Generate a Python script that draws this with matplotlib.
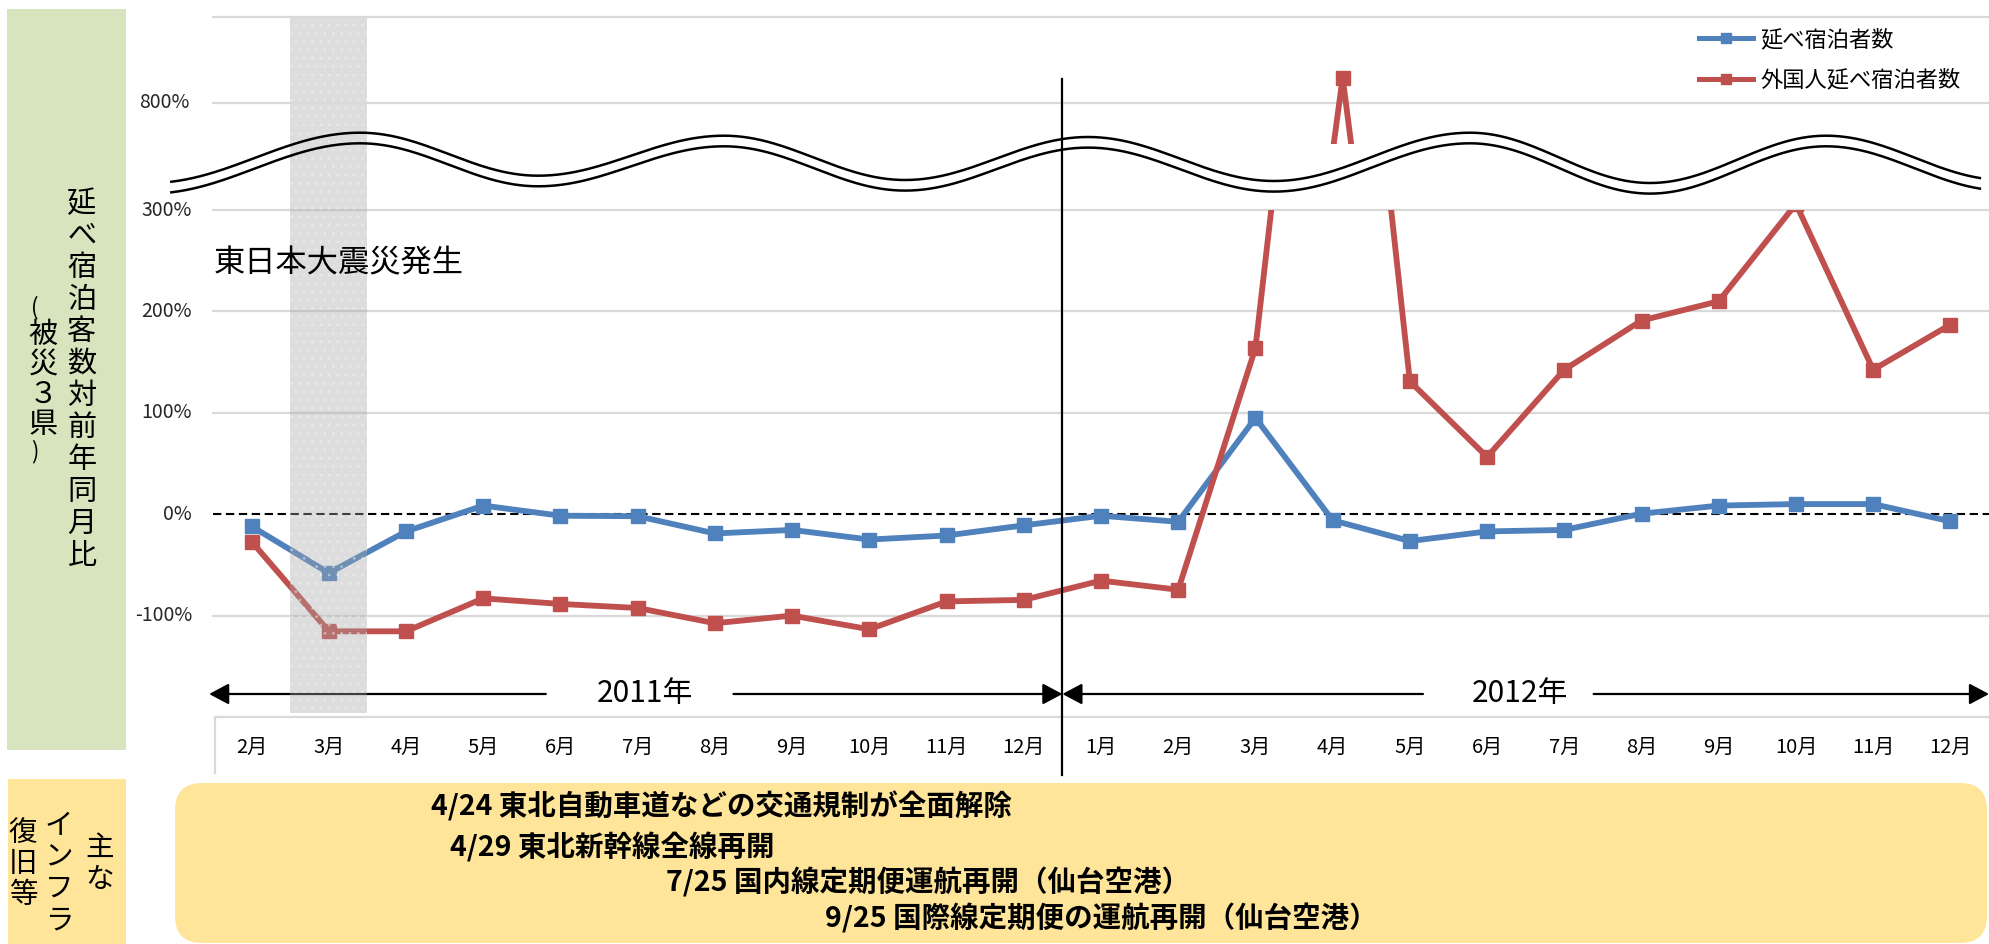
import matplotlib
matplotlib.use("Agg")
import numpy as np
import matplotlib.pyplot as plt
from matplotlib.patches import Rectangle, FancyBboxPatch
from matplotlib.lines import Line2D
from matplotlib.transforms import blended_transform_factory as blend, IdentityTransform

plt.rcParams['font.family'] = ['Noto Sans CJK JP', 'DejaVu Sans']
plt.rcParams['hatch.linewidth'] = 0.8

# ---------------- data ----------------
months = ['2月', '3月', '4月', '5月', '6月', '7月', '8月', '9月', '10月', '11月', '12月',
          '1月', '2月', '3月', '4月', '5月', '6月', '7月', '8月', '9月', '10月', '11月', '12月']
years = ['2011年', '2012年']
series_names = ['延べ宿泊者数', '外国人延べ宿泊者数']
total_guests = [-12, -58, -17, 8.5, -1.5, -2, -19, -15.5, -25, -21, -11,
                -1.5, -7.5, 95, -6, -26.5, -17, -15.5, 0.5, 8.5, 10, 10, -7]
foreign_guests = [-27, -115.5, -115.5, -83, -88.5, -92.5, -107.5, -100, -113.5, -86, -84.5,
                  -65.5, -74.5, 164, 829, 131, 56.5, 142.5, 191, 210, 306, 142.5, 187]
lower_ticks = [-100, 0, 100, 200, 300]
lower_tick_labels = ['-100%', '0%', '100%', '200%', '300%']
upper_ticks = [800, 900]
upper_tick_labels = ['800%', '']
disaster_month = 1          # 2011年3月
year_break = 10.5           # between 2011年12月 and 2012年1月
disaster_label = '東日本大震災発生'
ylabel_main = '延べ宿泊客数対前年同月比'
ylabel_sub = '(被災３県)'
side_columns = ['主な', 'インフラ', '復旧等']
events = ['4/24 東北自動車道などの交通規制が全面解除',
          '4/29 東北新幹線全線再開',
          '7/25 国内線定期便運航再開（仙台空港）',
          '9/25 国際線定期便の運航再開（仙台空港）']

BLUE = '#4F81BD'
RED = '#C0504D'
GRID = '#D9D9D9'
GREEN_BG = '#D7E4BD'
YELLOW_BG = '#FFE599'

# ---------------- figure / helpers ----------------
W, H, DPI = 1989, 944, 100
fig = plt.figure(figsize=(W / DPI, H / DPI), dpi=DPI)


def fx(px):
    return px / W


def fy(py):
    return 1 - py / H


def rect(x0, y0, x1, y1):
    return [fx(x0), fy(y1), fx(x1) - fx(x0), fy(y0) - fy(y1)]


PLOT_L, PLOT_R = 213, 1989
x = np.arange(len(months))
n = len(months)
cat_px = (PLOT_R - PLOT_L) / n

# lower panel (-200% .. 300%) and upper panel (broken part of the axis)
ax_lo = fig.add_axes(rect(PLOT_L, 210, PLOT_R, 717))
ax_hi = fig.add_axes(rect(PLOT_L, 16.7, PLOT_R, 144.3))
ax_lo.set_xlim(-0.5, n - 0.5)
ax_lo.set_ylim(-200, 300)
hi_shift = 10 / cat_px
ax_hi.set_xlim(-0.5 - hi_shift, n - 0.5 - hi_shift)
ax_hi.set_ylim(751.6, 900)
for ax in (ax_lo, ax_hi):
    ax.set_axis_off()

for v in lower_ticks:
    if v == 0:
        ax_lo.axhline(v, color='black', lw=1.5, ls=(0, (4, 2.2)), zorder=2, clip_on=False)
    else:
        ax_lo.axhline(v, color=GRID, lw=1.6, zorder=1, clip_on=False)
for v in upper_ticks:
    ax_hi.axhline(v, color=GRID, lw=1.6, zorder=1, clip_on=False)

for ax in (ax_lo, ax_hi):
    ax.plot(x, total_guests, color=BLUE, lw=4.2, marker='s', ms=9.5, zorder=3,
            solid_joinstyle='miter')
    ax.plot(x, foreign_guests, color=RED, lw=4.2, marker='s', ms=9.5, zorder=3,
            solid_joinstyle='miter')

# y tick labels
lab_tr = blend(fig.transFigure, ax_lo.transData)
for v, s in zip(lower_ticks, lower_tick_labels):
    ax_lo.text(fx(192), v, s, transform=lab_tr, ha='right', va='center',
               fontsize=14, color='#262626', clip_on=False)
lab_tr_hi = blend(fig.transFigure, ax_hi.transData)
for v, s in zip(upper_ticks, upper_tick_labels):
    ax_hi.text(fx(189), v, s, transform=lab_tr_hi, ha='right', va='center',
               fontsize=14, color='#262626', clip_on=False)

# earthquake month shading
band_tr = blend(ax_lo.transData, fig.transFigure)
band = Rectangle((disaster_month - 0.5, fy(713)), 1, fy(17) - fy(713), transform=band_tr,
                 facecolor='#A8A8A8', alpha=0.38, edgecolor='#F4F4F4', hatch='..', lw=0,
                 zorder=6, clip_on=False)
ax_lo.add_patch(band)

# year divider
fig.add_artist(Line2D([year_break, year_break], [fy(79), fy(775)], transform=band_tr,
                      color='black', lw=1.6, zorder=12))

# year arrows
arrow_y = fy(694)
arrow_kw = dict(arrowstyle='-|>,head_length=0.6,head_width=0.32', color='black',
                lw=1.6, shrinkA=0, shrinkB=0, mutation_scale=20)
year_spans = [(-0.55, year_break, 3.81, 6.24, 5.1), (year_break, n - 0.5, 15.17, 17.38, 16.43)]
for label, (a, b, g0, g1, c) in zip(years, year_spans):
    ax_lo.annotate('', xy=(a, arrow_y), xytext=(g0, arrow_y), xycoords=band_tr,
                   textcoords=band_tr, arrowprops=arrow_kw, zorder=4, annotation_clip=False)
    ax_lo.annotate('', xy=(b, arrow_y), xytext=(g1, arrow_y), xycoords=band_tr,
                   textcoords=band_tr, arrowprops=arrow_kw, zorder=4, annotation_clip=False)
    ax_lo.text(c, arrow_y, label, transform=band_tr, ha='center', va='center',
               fontsize=21.5, color='black')

# month row
for i, m in enumerate(months):
    ax_lo.text(i, fy(747), m, transform=band_tr, ha='center', va='center',
               fontsize=14.5, color='black', clip_on=False)
fig.add_artist(Line2D([fx(215), fx(PLOT_R)], [fy(717), fy(717)], color=GRID, lw=1.6, zorder=1))
fig.add_artist(Line2D([fx(215), fx(215)], [fy(717), fy(773)], color=GRID, lw=1.6, zorder=1))

# axis-break wave (upper stroke; lower stroke offset below)
wave_knots_x = [150, 360, 538, 724, 905, 1088, 1274, 1470, 1650, 1826, 2004]
wave_knots_y = [183, 132.7, 175.7, 135.7, 180, 137, 181, 132.7, 183, 135.7, 180]
wx, wy = [], []
for k in range(len(wave_knots_x) - 1):
    t = np.linspace(0, 1, 60)
    xs = wave_knots_x[k] + (wave_knots_x[k + 1] - wave_knots_x[k]) * t
    ys = wave_knots_y[k] + (wave_knots_y[k + 1] - wave_knots_y[k]) * (1 - np.cos(np.pi * t)) / 2
    wx.append(xs)
    wy.append(ys)
wx = np.concatenate(wx)
wy = np.concatenate(wy)
keep = (wx >= 171) & (wx <= 1981)
for off in (0, 10.6):
    fig.add_artist(Line2D(fx(wx[keep]), fy(wy[keep] + off), color='black', lw=1.8, zorder=11))

ax_lo.text(fx(214), fy(263), disaster_label, transform=fig.transFigure, ha='left',
           va='center', fontsize=22.5, color='black', zorder=7)

# legend
handles = [Line2D([], [], color=BLUE, lw=3.6, marker='s', ms=7.5),
           Line2D([], [], color=RED, lw=3.6, marker='s', ms=7.5)]
fig.legend(handles, series_names, loc='upper left', bbox_to_anchor=(fx(1699), fy(28)),
           frameon=False, fontsize=16, handlelength=2.45, handletextpad=0.3,
           labelspacing=0.78, borderpad=0, borderaxespad=0)

# left label panel
fig.add_artist(Rectangle((fx(7), fy(750)), fx(126) - fx(7), fy(9) - fy(750),
                         transform=fig.transFigure, facecolor=GREEN_BG, lw=0, zorder=0))


def vertical(chars, xc, y0, pitch, fs, small=(), small_adv=0.6, small_fs=None, **kw):
    y = y0
    prev_adv = None
    for ch in chars:
        adv = small_adv if ch in small else 1.0
        if prev_adv is not None:
            y += pitch * (prev_adv + adv) / 2
        dx = -8 if ch in small else 0
        size = small_fs if (ch in small and small_fs) else fs
        fig.text(fx(xc + dx), fy(y), ch, ha='center', va='center', fontsize=size,
                 color='black', zorder=5, **kw)
        prev_adv = adv


vertical(ylabel_main, 82, 204, 32, 21)
vertical(ylabel_sub, 43, 308, 30, 21, small='()', small_adv=0.8, small_fs=16)

# bottom band: recovery milestones
fig.add_artist(Rectangle((fx(8), fy(944)), fx(126) - fx(8), fy(779) - fy(944),
                         transform=fig.transFigure, facecolor=YELLOW_BG, lw=0, zorder=0))
vertical(side_columns[0], 100, 848, 32, 20.5)
vertical(side_columns[1], 59, 826, 31.5, 20.5)
vertical(side_columns[2], 23, 833, 31, 20.5)

fig.add_artist(FancyBboxPatch((175, H - 943), 1987 - 175, 943 - 783,
                              boxstyle='round,pad=0,rounding_size=27',
                              transform=IdentityTransform(), facecolor=YELLOW_BG,
                              lw=0, zorder=0))
event_pos = [(431, 806), (450, 847), (666, 882), (825, 918)]
for (ex, ey), s in zip(event_pos, events):
    fig.text(fx(ex), fy(ey), s, ha='left', va='center', fontsize=20.5,
             fontweight='bold', color='black', zorder=5)

fig.savefig('out.png', dpi=DPI, facecolor='white')
